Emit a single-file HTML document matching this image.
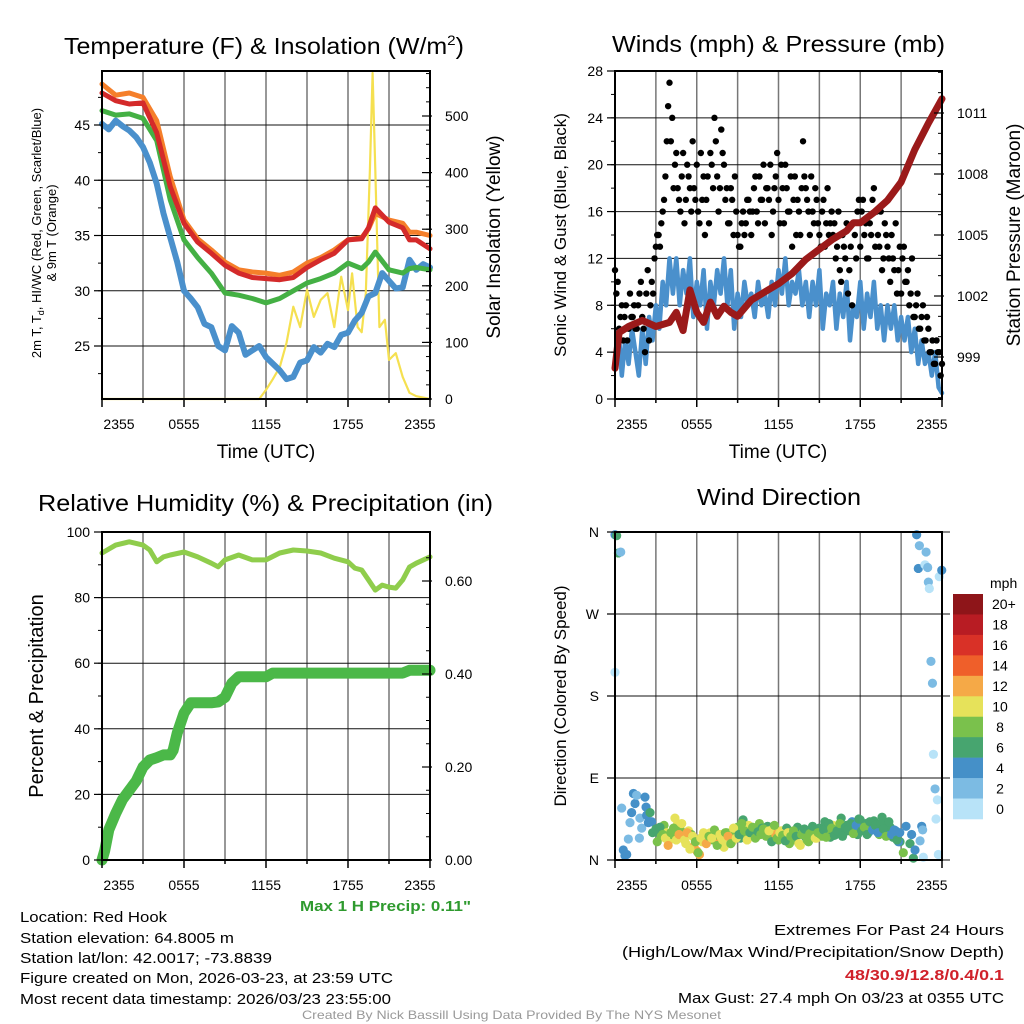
<!DOCTYPE html>
<html><head><meta charset="utf-8"><style>
html,body{margin:0;padding:0;background:#fff}
svg{display:block;font-family:"Liberation Sans",sans-serif}
</style></head><body>
<svg id="fig" width="1024" height="1024" viewBox="0 0 1024 1024" xmlns="http://www.w3.org/2000/svg">
<rect width="1024" height="1024" fill="#fff"/>
<g id="texts" font-family="Liberation Sans, sans-serif" fill="#000">
<text x="64" y="54" font-size="23" textLength="400" lengthAdjust="spacingAndGlyphs">Temperature (F) &amp; Insolation (W/m<tspan dy="-9" font-size="14">2</tspan><tspan dy="9">)</tspan></text>
<text x="612" y="52" font-size="23" textLength="333" lengthAdjust="spacingAndGlyphs">Winds (mph) &amp; Pressure (mb)</text>
<text x="38" y="511" font-size="23" textLength="455" lengthAdjust="spacingAndGlyphs">Relative Humidity (%) &amp; Precipitation (in)</text>
<text x="697" y="505" font-size="23" textLength="164" lengthAdjust="spacingAndGlyphs">Wind Direction</text>
<text transform="translate(41,233) rotate(-90)" text-anchor="middle" font-size="13">2m T, T<tspan dy="3" font-size="9">d</tspan><tspan dy="-3">, HI/WC (Red, Green, Scarlet/Blue)</tspan></text>
<text transform="translate(56,233) rotate(-90)" text-anchor="middle" font-size="13">&amp; 9m T (Orange)</text>
<text transform="translate(500,237) rotate(-90)" text-anchor="middle" font-size="19">Solar Insolation (Yellow)</text>
<text x="266" y="458" text-anchor="middle" font-size="19">Time (UTC)</text>
<text x="778" y="458" text-anchor="middle" font-size="19">Time (UTC)</text>
<text transform="translate(566,235) rotate(-90)" text-anchor="middle" font-size="17">Sonic Wind &amp; Gust (Blue, Black)</text>
<text transform="translate(1020,235) rotate(-90)" text-anchor="middle" font-size="19">Station Pressure (Maroon)</text>
<text transform="translate(43,696) rotate(-90)" text-anchor="middle" font-size="20">Percent &amp; Precipitation</text>
<text transform="translate(566,696) rotate(-90)" text-anchor="middle" font-size="17">Direction (Colored By Speed)</text>
<text x="300" y="911" font-size="15" font-weight="bold" fill="#2e9a2e" textLength="171" lengthAdjust="spacingAndGlyphs">Max 1 H Precip: 0.11"</text>
<text x="20" y="922" font-size="15" textLength="147" lengthAdjust="spacingAndGlyphs">Location: Red Hook</text>
<text x="20" y="943" font-size="15" textLength="214" lengthAdjust="spacingAndGlyphs">Station elevation: 64.8005 m</text>
<text x="20" y="963" font-size="15" textLength="252" lengthAdjust="spacingAndGlyphs">Station lat/lon: 42.0017; -73.8839</text>
<text x="20" y="983" font-size="15" textLength="373" lengthAdjust="spacingAndGlyphs">Figure created on Mon, 2026-03-23, at 23:59 UTC</text>
<text x="20" y="1004" font-size="15" textLength="371" lengthAdjust="spacingAndGlyphs">Most recent data timestamp: 2026/03/23 23:55:00</text>
<text x="774" y="935" font-size="15" textLength="230" lengthAdjust="spacingAndGlyphs">Extremes For Past 24 Hours</text>
<text x="622" y="957" font-size="15" textLength="382" lengthAdjust="spacingAndGlyphs">(High/Low/Max Wind/Precipitation/Snow Depth)</text>
<text x="845" y="980" font-size="15" font-weight="bold" fill="#d0212a" textLength="159" lengthAdjust="spacingAndGlyphs">48/30.9/12.8/0.4/0.1</text>
<text x="678" y="1003" font-size="15" textLength="326" lengthAdjust="spacingAndGlyphs">Max Gust: 27.4 mph On 03/23 at 0355 UTC</text>
<text x="302" y="1019" font-size="12" fill="#999" textLength="419" lengthAdjust="spacingAndGlyphs">Created By Nick Bassill Using Data Provided By The NYS Mesonet</text>
<text x="990" y="588" font-size="14">mph</text>
</g>
</svg>
<script>
// ---------- DATA ----------
var xTickLabels = ["2355","0555","1155","1755","2355"];
var tempTicks = [25,30,35,40,45];
var insolTicks = [0,100,200,300,400,500];
var windTicks = [0,4,8,12,16,20,24,28];
var presTicks = [999,1002,1005,1008,1011];
var rhTicks = [0,20,40,60,80,100];
var precipTicks = [0.00,0.20,0.40,0.60];
var dirTickLabels = ["N","E","S","W","N"];
var cbLabels = ["20+","18","16","14","12","10","8","6","4","2","0"];
var cbColors = ["#8e1519","#b81c23","#d93127","#ef5f2a","#f5a947","#e6e25a","#7ac14c","#47a56f","#4590c8","#7cbbe3","#b8e3f8"];

var tHours = [0,1,2,3,4,5,6,7,8,9,10,11,12,13,14,15,16,17,18,19,19.5,20,21,22,22.5,23,24];
var tempT = [47.9,47.2,46.9,47.0,44.3,39.4,36.1,34.4,33.4,32.3,31.6,31.2,31.1,31.0,31.2,32.1,32.8,33.4,34.6,34.7,35.7,37.5,36.2,35.7,34.6,34.6,33.8];
var temp9m = [48.7,47.7,47.9,47.5,45.4,40.3,36.4,34.7,33.7,32.6,31.9,31.7,31.6,31.4,31.7,32.5,33.0,33.7,34.6,34.8,35.6,37.0,36.4,36.1,35.3,35.3,35.0];
var tempHI = [46.3,45.9,46.0,45.6,43.6,38.2,34.6,33.0,31.6,29.8,29.6,29.3,28.9,29.3,30.0,30.7,31.1,31.6,32.5,32.0,32.6,33.5,31.9,31.6,32.0,32.1,31.9];
var dHours = [0,0.5,1,1.5,2,2.5,3,3.5,4,4.5,5,5.5,6,6.5,7,7.5,8,8.5,9,9.5,10,10.5,11,11.5,12,12.5,13,13.5,14,14.5,15,15.5,16,16.5,17,17.5,18,18.5,19,19.5,20,20.5,21,21.5,22,22.5,23,23.5,24];
var tempTd = [45.1,44.6,45.4,44.9,44.5,43.9,43.0,41.6,39.7,37.0,34.8,32.6,30.0,29.3,28.5,27.0,26.7,25.0,24.6,26.8,26.2,24.2,24.6,25.0,24.0,23.4,22.8,22.0,22.2,23.5,23.7,24.9,24.4,25.2,24.9,26.0,26.2,27.3,28.0,29.5,29.8,31.6,30.9,30.2,30.3,32.8,31.9,32.4,32.1];
var insHours = [0,11.5,12,12.5,13,13.5,14,14.5,15,15.5,16,16.5,17,17.5,18,18.3,18.7,19,19.3,19.6,19.8,20,20.3,20.7,21,21.5,22,22.5,23,24];
var insolation = [0,0,16,35,56,99,163,127,193,145,175,187,127,216,157,222,127,118,187,405,576,405,127,140,69,81,39,11,5,0];

var presHours = [0,0.3,1,2,3,4,4.5,5,5.5,6,6.5,7,7.5,8,8.5,9,10,11,12,13,14,15,16,17,17.5,18,19,20,21,22,23,24];
var pressure = [998.45,1000.2,1000.5,1000.8,1000.5,1000.7,1001.2,1000.3,1002.3,1001.2,1000.7,1001.7,1001.0,1001.5,1001.2,1001.0,1001.8,1002.2,1002.6,1003.1,1003.8,1004.3,1004.8,1005.2,1005.6,1005.6,1006.1,1006.7,1007.6,1009.2,1010.5,1011.7];
var windSpeed = [3,6,2,5,3,6,4,2,6, 3,7,5,8,6,10,8,12, 9,12,8,11,9,12,7,10, 8,11,6,10,8,11,9,12, 8,11,6,9,7,10,8,9, 7,10,8,9,7,10,8,11, 9,12,8,10,9,11,8,10, 7,10,8,11,6,9,8,10, 6,9,7,10,5,8,7,10, 6,9,7,10,6,8,5,8, 6,8,5,7,5,7,4,6, 3,5,3,4,2,4,1,0.5];
var windGust = [11,10,7,5,8,6,7,8,6,9, 7,4,11,8,9,13,14,15,17,22, 27,24,20,18,16,21,17,19,16,18, 20,15,17,14,19,21,18,22,16,23, 20,18,15,17,19,14,13,16,15,17, 14,18,16,19,17,15,18,20,16,19, 17,20,15,18,16,13,19,17,14,22, 18,16,19,15,17,14,16,13,18,15, 14,12,16,10,13,15,11,8,14,16, 13,17,15,12,14,18,16,13,11,15, 13,10,12,15,11,9,13,10,8,12, 7,9,6,8,5,6,4,3,5,4,3];
var windGustB = [9,6,8,7,5,9,7,6,8,10, 6,9,5,10,12,14,13,16,19,25, 22,18,21,17,19,15,20,18,22,17, 16,21,19,17,15,20,24,19,18,21, 17,15,18,14,16,13,15,14,17,16, 16,19,15,17,20,18,17,14,18,21, 15,18,20,16,19,17,14,16,18,19, 17,14,16,18,15,13,17,15,14,16, 15,13,11,14,12,9,13,15,12,17, 16,14,12,15,17,13,14,16,12,14, 12,14,11,9,13,12,10,11,9,7, 8,6,7,5,7,4,5,3,4,2];

var rhHours = [0,1,2,3,3.5,4,4.5,5,6,7,8,8.5,9,10,11,12,13,14,15,16,17,18,18.5,19,19.5,20,20.5,21,21.5,22,22.5,23,24];
var rh = [93.6,96,97,96,94.5,90.9,92.4,93,93.9,92.4,90.5,89.4,91.5,93,91.5,91.5,93.6,94.5,94.2,93.6,92,90.9,89,88.4,85.4,82.3,83.8,83.2,82.9,85.4,89.3,90.5,92.4];
var pHours = [0,0.2,0.5,1,1.5,2,2.5,3,3.5,4,4.5,5,5.2,5.5,6,6.5,7,8,8.5,9,9.5,10,11,12,12.5,22,22.5,24];
var precip = [0,0.02,0.065,0.10,0.13,0.15,0.17,0.20,0.215,0.22,0.226,0.226,0.236,0.273,0.316,0.338,0.338,0.338,0.34,0.35,0.38,0.394,0.394,0.394,0.402,0.402,0.408,0.408];

var dirEdgeHours = [0,0.12,0.25,0.42,0,0.49,0.61,0.73,0.86,0.98,1.1,1.22,1.35,1.47,1.59,1.79,1.83,1.96,2.2,2.28,2.32,2.45,2.57,2.69,2.76, 20.92,21.16,21.36,21.65,21.77,21.9,22.02,22.14,22.26,22.34,22.39,22.51,22.58,22.63,22.75,22.83,22.95,23.0,23.07,23.19,23.3,23.37,23.49,23.56,23.66,23.73,23.8,23.98];
var dirEdge = [357,356,337,338,206,57,11,5,6,23,41,52,73,62,71,24,46,35,69,58,49,41,52,42,30, 20,8,37,18,28,2,11,357,320,345,21,37,33,3,324,338,321,305,298,218,194,116,78,45,66,6,311,318];
var spdEdge = [4,6,6,2,0,2,4,4,4,2,2,4,4,4,2,2,2,2,4,4,4,4,6,4,6, 6,8,4,6,4,6,4,4,4,2,2,4,2,0,0,2,2,2,0,2,2,0,2,0,0,0,0,4];
var dirA = [34,30,26,38,30,22,28,46,40,33, 25,18,32,28,15,10,6,20,27,24, 30,22,26,18,25,14,30,28,20,32, 36,24,44,30,38,28,33,26,40,35, 30,37,26,34,28,22,32,25,35,18, 28,22,36,16,30,25,20,33,27,24, 35,26,42,31,25,38,28,34,46,30, 38,32,42,36,28,44,33,40,30,37, 43,35,28,47,38,30,36,25,32,20];
var spdA = [7,7,9,8,11,10,9,10,11,9, 12,11,10,9,12,13,12,10,9,11, 10,9,8,12,10,11,9,10,11,9, 8,7,6,9,10,8,7,10,8,6, 9,7,8,10,12,9,10,8,7,9, 8,9,7,10,8,6,9,7,8,10, 7,9,6,8,7,10,6,8,7,6, 6,7,5,8,6,7,5,6,4,7, 6,7,8,6,7,5,6,7,5,4];
var dirB = [20,36,28,24,16,30,35,22,28,40, 22,30,12,26,20,8,24,30,18,26, 24,33,16,28,22,30,26,18,35,24, 28,40,32,22,30,36,24,31,28,34, 26,32,20,38,24,30,27,21,30,26, 32,26,18,28,34,22,29,37,24,30, 28,33,25,40,35,27,32,40,26,36, 34,40,29,38,45,32,36,28,42,33, 38,30,40,34,26,42,28,33,22,30];
var spdB = [8,6,9,10,12,8,9,11,12,10, 10,12,11,10,9,8,10,11,12,9, 10,8,9,11,10,9,12,8,10,11, 7,9,8,10,7,9,8,6,9,8, 8,10,7,9,8,11,9,7,10,8, 9,7,10,8,6,9,8,7,10,8, 8,6,9,7,8,6,7,8,6,7, 7,6,8,5,7,6,8,6,7,5, 6,5,7,6,8,6,5,4,6,5];

// ---------- DRAWING ----------
var NS="http://www.w3.org/2000/svg";
var svg=document.getElementById('fig');
function mk(tag,attrs,parent){var e=document.createElementNS(NS,tag);for(var k in attrs)e.setAttribute(k,attrs[k]);(parent||svg).appendChild(e);return e;}
function P(x0,x1,y0,y1){return {x0:x0,x1:x1,y0:y0,y1:y1,tx:function(h){return x0+(x1-x0)*h/24;}};}
function lin(v0,v1,p0,p1){return function(v){return p0+(v-v0)*(p1-p0)/(v1-v0);};}
function pathD(xs,ys,fx,fy){var d="";for(var i=0;i<xs.length;i++){d+=(i?"L":"M")+fx(xs[i]).toFixed(1)+" "+fy(ys[i]).toFixed(1);}return d;}
function frame(p,name){
  var g=mk('g',{});
  
  
  for(var i=1;i<8;i++){var x=p.x0+(p.x1-p.x0)*i/8;mk('line',{x1:x,x2:x,y1:p.y0,y2:p.y1,stroke:'#777','stroke-width':1.5},g);}
  return g;
}
function hgrid(g,p,ys,x1){ys.forEach(function(y){mk('line',{x1:p.x0,x2:x1||p.x1,y1:y,y2:y,stroke:'#111','stroke-width':1},g);});}
function border(p,name){var r=mk('rect',{x:p.x0,y:p.y0,width:p.x1-p.x0,height:p.y1-p.y0,fill:'none',stroke:'#000','stroke-width':2});
  
  }
function xaxis(p,name){
  var g=mk('g',{'font-size':14,'text-anchor':'middle'});
  
  
  for(var i=0;i<=8;i++){var x=p.x0+(p.x1-p.x0)*i/8;mk('line',{x1:x,x2:x,y1:p.y1,y2:p.y1+(i%2?4:8),stroke:'#000','stroke-width':1.5},g);}
  xTickLabels.forEach(function(l,i){var x=p.x0+(p.x1-p.x0)*i/4;var t=mk('text',{x:x+(i==0?17:(i==4?-10:0)),y:p.y1+30},g);t.textContent=l;});
}
function yaxisL(p,name,ticks,f,fmt,minorStep,vmin,vmax){
  var g=mk('g',{'font-size':14,'text-anchor':'end'});
  
  
  ticks.forEach(function(v){var y=f(v);mk('line',{x1:p.x0-8,x2:p.x0,y1:y,y2:y,stroke:'#000','stroke-width':1.2},g);var t=mk('text',{x:p.x0-12,y:y+5},g);t.textContent=fmt?fmt(v):v;});
  if(minorStep){for(var v=Math.ceil(vmin/minorStep)*minorStep;v<=vmax;v+=minorStep){var y=f(v);if(y>=p.y0&&y<=p.y1)mk('line',{x1:p.x0-4,x2:p.x0,y1:y,y2:y,stroke:'#000','stroke-width':1},g);}}
}
function yaxisR(p,name,ticks,f,fmt,minorStep,vmin,vmax){
  var g=mk('g',{'font-size':14,'text-anchor':'start'});
  
  
  ticks.forEach(function(v){var y=f(v);mk('line',{x1:p.x1-8,x2:p.x1+2,y1:y,y2:y,stroke:'#000','stroke-width':1.2},g);var t=mk('text',{x:p.x1+15,y:y+5},g);t.textContent=fmt?fmt(v):v;});
  if(minorStep){for(var v=Math.ceil(vmin/minorStep)*minorStep;v<=vmax;v+=minorStep){var y=f(v);if(y>=p.y0&&y<=p.y1)mk('line',{x1:p.x1-4,x2:p.x1,y1:y,y2:y,stroke:'#000','stroke-width':1},g);}}
}
function series(d,color,w,name){var e=mk('path',{d:d,fill:'none',stroke:color,'stroke-width':w,'stroke-linejoin':'round','stroke-linecap':'round'});
  
  return e;}

// Panel 1: temperature
var p1=P(102,430,71,399);
var fT=lin(25,45,346,125), fI=lin(0,500,399,116);
var g1=frame(p1,'temp');hgrid(g1,p1,tempTicks.map(fT));
series(pathD(insHours,insolation,p1.tx,fI),'#f5e050',2.2,'insolation-line');
series(pathD(dHours,tempTd,p1.tx,fT),'#4a90cc',6,'dewpoint-line');
series(pathD(tHours,tempHI,p1.tx,fT),'#44b044',5,'heat-index-line');
series(pathD(tHours,temp9m,p1.tx,fT),'#f57f2a',5,'temp-9m-line');
series(pathD(tHours,tempT,p1.tx,fT),'#d42a2a',5,'temp-2m-line');
border(p1,'temp');xaxis(p1,'temp');
yaxisL(p1,'temp',tempTicks,fT,null,2.5,20,50);
yaxisR(p1,'insolation',insolTicks,fI,null,25,0,575);

// Panel 2: winds
var p2=P(615,942,71,399);
var fW=lin(0,28,399,71), fP=lin(999,1011,357,113);
var g2=frame(p2,'wind');hgrid(g2,p2,windTicks.map(fW));
var wh=windSpeed.map(function(_,i){return i*0.25;});
series(pathD(wh,windSpeed,p2.tx,fW),'#4a90cc',4.5,'wind-speed-line');
var gg=mk('g',{fill:'#000'});


windGust.forEach(function(v,i){var c=mk('circle',{cx:p2.tx(i*0.2),cy:fW(v),r:3.2},gg);
  
  });
windGustB.forEach(function(v,i){var c=mk('circle',{cx:p2.tx(0.1+i*0.2),cy:fW(v),r:3.2},gg);
  
  });
series(pathD(presHours,pressure,p2.tx,fP),'#9b1a1a',7,'pressure-line');
border(p2,'wind');xaxis(p2,'wind');
yaxisL(p2,'wind',windTicks,fW,null,2,0,28);
yaxisR(p2,'pressure',presTicks,fP,null,1,996,1013);

// Panel 3: RH & precip
var p3=P(102,430,532,860);
var fR=lin(0,100,860,532), fPr=lin(0,0.6,860,581);
var g3=frame(p3,'rh');hgrid(g3,p3,rhTicks.map(fR));
series(pathD(rhHours,rh,p3.tx,fR),'#8fcd4c',5,'rh-line');
series(pathD(pHours,precip,p3.tx,fPr),'#4bb848',11,'precip-line');
border(p3,'rh');xaxis(p3,'rh');
yaxisL(p3,'rh',rhTicks,fR,null,10,0,100);
yaxisR(p3,'precip',precipTicks,fPr,function(v){return v.toFixed(2);},0.05,0,0.7);

// Panel 4: wind direction
var p4=P(615,942,532,860);
var fD=lin(0,360,860,532);
var g4=frame(p4,'wdir');hgrid(g4,p4,[0,90,180,270,360].map(fD),950);
function spdColor(s){var b=Math.min(10,Math.floor(s/2));return cbColors[10-b];}
var dg=mk('g',{});


function dot(h,d,s){var c=mk('circle',{cx:p4.tx(h),cy:fD(d),r:4.6,fill:spdColor(s)},dg);
  
  }
dirEdge.forEach(function(d,i){dot(dirEdgeHours[i],d,spdEdge[i]);});
dirA.forEach(function(d,i){dot(3+i*0.2,d,spdA[i]);});
dirB.forEach(function(d,i){dot(3.1+i*0.2,d,spdB[i]);});
border(p4,'wdir');xaxis(p4,'wdir');
var g4l=mk('g',{'font-size':14,'text-anchor':'end'});


dirTickLabels.forEach(function(l,i){var y=fD(i*90);mk('line',{x1:p4.x0-8,x2:p4.x0,y1:y,y2:y,stroke:'#000','stroke-width':1.2},g4l);var t=mk('text',{x:p4.x0-16,y:y+5},g4l);t.textContent=l;});

// Colorbar
var cb=mk('g',{'font-size':14});


var cbTop=594,cbH=225/11;
cbColors.forEach(function(c,i){var r=mk('rect',{x:953,y:cbTop+i*cbH,width:30,height:cbH+0.3,fill:c},cb);
  
  
  var t=mk('text',{x:i==0?992:1000,y:cbTop+i*cbH+cbH/2+5,'text-anchor':i==0?'start':'middle'},cb);t.textContent=cbLabels[i];});
</script>
</body></html>
